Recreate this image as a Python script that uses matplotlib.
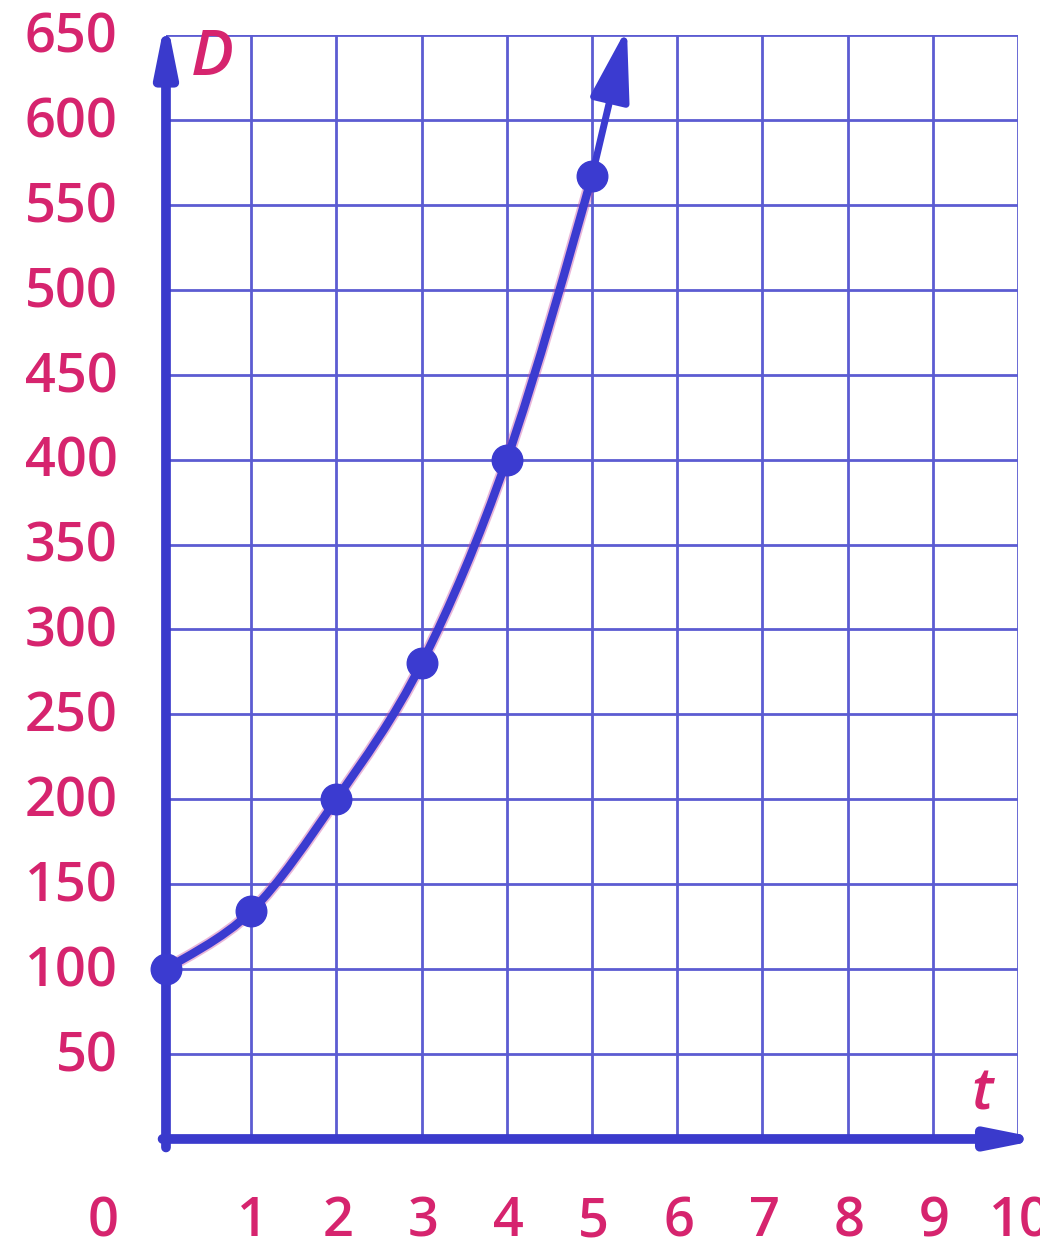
import matplotlib
matplotlib.use("Agg")
import matplotlib.pyplot as plt
from matplotlib.path import Path
from matplotlib.patches import PathPatch
import matplotlib.patheffects as pe

# Data: D against t
t_values = [0, 1, 2, 3, 4, 5]
d_values = [100, 134, 200, 280, 400, 567]
arrow_tip = (5.41, 654)

x_ticks = [1, 2, 3, 4, 5, 6, 7, 8, 9, 10]
y_ticks = [50, 100, 150, 200, 250, 300, 350, 400, 450, 500, 550, 600, 650]

LABEL = "#d6246e"
GRID = "#5c5cd2"
AXIS = "#3a3acc"
CURVE = "#3b3bd0"

plt.rcParams["font.family"] = ["Open Sans", "DejaVu Sans"]

fig = plt.figure(figsize=(10.40, 12.53), dpi=100)
ax = fig.add_axes([0.1596, 0.0910, 0.8192, 0.8811])
ax.set_xlim(0, 10)
ax.set_ylim(0, 650)
for s in ax.spines.values():
    s.set_visible(False)

# grid
ax.set_xticks(range(0, 11))
ax.set_yticks(range(0, 651, 50))
ax.grid(True, color=GRID, lw=2.0, zorder=1)
ax.tick_params(length=0, labelbottom=False, labelleft=False)

# tick labels
for v in y_ticks:
    ax.text(-0.57, v - 2, str(v), ha="right", va="center", fontsize=39,
            fontweight="semibold", color=LABEL, clip_on=False)
for v in x_ticks:
    ax.text(v + 0.02, -49, str(v), ha="center", va="center", fontsize=39,
            fontweight="semibold", color=LABEL, clip_on=False)
ax.text(-0.74, -49, "0", ha="center", va="center", fontsize=39,
        fontweight="semibold", color=LABEL, clip_on=False)

# axis labels
ax.text(0.54, 636, "D", ha="center", va="center", fontsize=46, color=LABEL,
        style="italic", fontweight="semibold", clip_on=False)
ax.text(9.58, 26, "t", ha="center", va="center", fontsize=42, color=LABEL,
        style="italic", fontweight="semibold", clip_on=False)

# axes with arrowheads
ax.annotate("", xy=(0, 661), xytext=(0, -5),
            arrowprops=dict(arrowstyle="-|>,head_length=1.5,head_width=0.3",
                            mutation_scale=20, color=AXIS, lw=7,
                            shrinkA=0, shrinkB=0),
            annotation_clip=False, zorder=5)
ax.annotate("", xy=(10.3, 0), xytext=(-0.04, 0),
            arrowprops=dict(arrowstyle="-|>,head_length=1.4,head_width=0.28",
                            mutation_scale=20, color=AXIS, lw=7,
                            shrinkA=0, shrinkB=0),
            annotation_clip=False, zorder=5)

# smooth curve through the points (Catmull-Rom as cubic Bezier)
pts = list(zip(t_values, d_values))
ext = [pts[0]] + pts + [arrow_tip]
verts = [pts[0]]
codes = [Path.MOVETO]
for i in range(1, len(ext) - 2):
    p0, p1, p2, p3 = ext[i - 1], ext[i], ext[i + 1], ext[i + 2]
    c1 = (p1[0] + (p2[0] - p0[0]) / 6, p1[1] + (p2[1] - p0[1]) / 6)
    c2 = (p2[0] - (p3[0] - p1[0]) / 6, p2[1] - (p3[1] - p1[1]) / 6)
    verts += [c1, c2, p2]
    codes += [Path.CURVE4] * 3
curve = PathPatch(Path(verts, codes), fill=False, edgecolor=CURVE, lw=6,
                  capstyle="round", zorder=6,
                  path_effects=[pe.Stroke(linewidth=8.5, foreground="#c84aa0",
                                          alpha=0.4), pe.Normal()])
ax.add_patch(curve)

# arrow continuing beyond the last point
ax.annotate("", xy=arrow_tip, xytext=pts[-1],
            arrowprops=dict(arrowstyle="-|>,head_length=2.2,head_width=0.6",
                            mutation_scale=20, color=CURVE, lw=5,
                            shrinkA=0, shrinkB=0),
            annotation_clip=False, zorder=6)

ax.plot(t_values, d_values, "o", ms=22, color=CURVE, zorder=7, clip_on=False)

fig.savefig("out.png", dpi=100)
